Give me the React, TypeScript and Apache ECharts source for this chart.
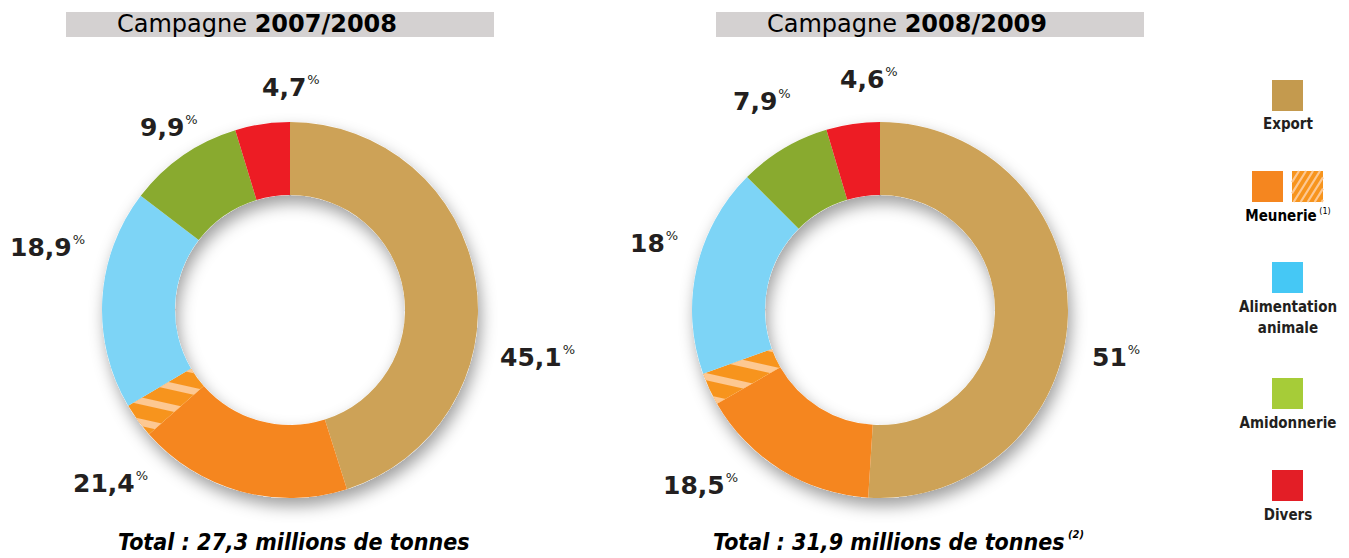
import React, { useEffect, useRef } from "react";
import * as echarts from "echarts";

// ---- Data ----
const categories = ["Export", "Meunerie", "Meunerie (part hachurée)", "Alimentation animale", "Amidonnerie", "Divers"];
const campaigns = ["2007/2008", "2008/2009"];
const exportShare = [45.1, 51];
const meunerieShare = [21.4, 18.5];
const meunerieHatchedShare = [3.0, 2.8];
const alimentationShare = [18.9, 18];
const amidonnerieShare = [9.9, 7.9];
const diversShare = [4.7, 4.6];
const totals = ["27,3", "31,9"];
const totalNotes = ["", "(2)"];

const legendItems = ["Export", "Meunerie", "Alimentation\nanimale", "Amidonnerie", "Divers"];

// ---- Styles ----
const pieColors = ["#CDA257", "#F5861F", "#F7941D", "#7DD4F6", "#89AA2F", "#ED1C24"];
const legendColors = ["#C49A4E", "#F5861F", "#45C8F5", "#A6CC38", "#E31E26"];
const hatchLight = "#FDC892";
const centers = [[290, 310], [880, 310]];
const ringRadius = [115, 188];
const labelPos = [
  [[500, 357], [73, 483], null, [10, 247], [140, 127], [262, 87]],
  [[1092, 357], [663, 485], null, [630, 243], [733, 101], [840, 79]],
];
const dark = "#231F20";
const numFont = "'DejaVu Sans', sans-serif";
const condFont = "'Liberation Sans Narrow', 'DejaVu Sans Condensed', sans-serif";

const fmt = (v: number) => String(v).replace(".", ",");

function hatchLines(x0: number, y0: number, s: number) {
  const m = Math.tan((58 * Math.PI) / 180);
  const step = 7;
  const out: any[] = [];
  for (let t = x0 - s / m; t < x0 + s; t += step) {
    const u0 = Math.max(0, ((x0 - t) * m) / s);
    const u1 = Math.min(1, ((x0 + s - t) * m) / s);
    if (u1 <= u0) continue;
    const p = (u: number) => [t + (u * s) / m, y0 + s - u * s];
    const a = p(u0), b = p(u1);
    out.push({
      type: "line",
      shape: { x1: a[0], y1: a[1], x2: b[0], y2: b[1] },
      style: { stroke: hatchLight, lineWidth: 2.2 },
      z: 12,
    });
  }
  return out;
}

export default function App() {
  const ref = useRef<HTMLDivElement>(null);
  useEffect(() => {
    if (!ref.current) return;
    const chart = echarts.init(ref.current, null, { renderer: "svg" });

    const shadowSeries = campaigns.map((c, i) => ({
      type: "pie",
      name: "shadow" + c,
      center: centers[i],
      radius: ringRadius,
      silent: true,
      z: 1,
      label: { show: false },
      labelLine: { show: false },
      data: [{ value: 1, itemStyle: { color: "#ffffff", shadowBlur: 16, shadowOffsetY: 8, shadowOffsetX: 3, shadowColor: "rgba(0,0,0,0.38)" } }],
    }));

    const dataSeries = campaigns.map((c, i) => {
      const vals = [
        exportShare[i],
        meunerieShare[i] - meunerieHatchedShare[i],
        meunerieHatchedShare[i],
        alimentationShare[i],
        amidonnerieShare[i],
        diversShare[i],
      ];
      const labels = [
        fmt(exportShare[i]),
        fmt(meunerieShare[i]),
        "",
        fmt(alimentationShare[i]),
        fmt(amidonnerieShare[i]),
        fmt(diversShare[i]),
      ];
      return {
        type: "pie",
        name: c,
        center: centers[i],
        radius: ringRadius,
        startAngle: 90,
        clockwise: true,
        z: 3,
        silent: true,
        labelLine: { show: false },
        label: {
          show: true,
          position: "outside",
          overflow: "none",
          formatter: (p: any) => `{v|${p.data.labelText}}{p|%}`,
          rich: {
            v: { fontSize: 25, fontWeight: "bold", fontFamily: numFont, color: dark, lineHeight: 28 },
            p: { fontSize: 13, fontFamily: numFont, color: dark, verticalAlign: "top", lineHeight: 14, padding: [0, 0, 0, 1] },
          },
        },
        labelLayout: (p: any) => {
          const pos = labelPos[i][p.dataIndex];
          if (!pos) return {};
          return { x: pos[0], y: pos[1], align: "left", verticalAlign: "middle" };
        },
        data: categories.map((name, k) => ({
          name,
          value: vals[k],
          labelText: labels[k],
          label: k === 2 ? { show: false } : undefined,
          itemStyle:
            k === 2
              ? {
                  color: pieColors[k],
                  decal: {
                    symbol: "rect",
                    color: hatchLight,
                    dashArrayX: [1, 0],
                    dashArrayY: [7, 14],
                    rotation: 0.22,
                  },
                }
              : { color: pieColors[k] },
        })),
      };
    });

    const graphics: any[] = [];
    campaigns.forEach((c, i) => {
      const bx = i === 0 ? 66 : 716;
      graphics.push({ type: "rect", shape: { x: bx, y: 12, width: 428, height: 25 }, style: { fill: "#D4D1D1" }, z: 5 });
      graphics.push({
        type: "text",
        x: bx + 51,
        y: 24,
        z: 6,
        style: {
          text: `{a|Campagne }{b|${c}}`,
          verticalAlign: "middle",
          rich: {
            a: { fontSize: 24, fontFamily: numFont, color: dark },
            b: { fontSize: 24, fontFamily: numFont, fontWeight: "bold", color: dark },
          },
        },
      });
      graphics.push({
        type: "text",
        x: i === 0 ? 118 : 713,
        y: 542,
        z: 6,
        style: {
          text: `{t|Total : ${totals[i]} millions de tonnes}` + (totalNotes[i] ? `{n| ${totalNotes[i]}}` : ""),
          verticalAlign: "middle",
          rich: {
            t: { fontSize: 23, fontFamily: condFont, fontWeight: "bold", fontStyle: "italic", color: dark, lineHeight: 26 },
            n: { fontSize: 11, fontFamily: condFont, fontWeight: "bold", fontStyle: "italic", color: dark, verticalAlign: "top", lineHeight: 12 },
          },
        },
      });
    });

    // Legend
    const sqY = [80, 171, 262, 378, 470];
    const txtY = [124, 216, 307, 423, 515];
    legendItems.forEach((name, k) => {
      if (k === 1) {
        graphics.push({ type: "rect", shape: { x: 1252, y: sqY[k], width: 31, height: 31 }, style: { fill: legendColors[k] }, z: 10 });
        graphics.push({ type: "rect", shape: { x: 1292, y: sqY[k], width: 31, height: 31 }, style: { fill: "#F7941D" }, z: 10 });
        graphics.push(...hatchLines(1292, sqY[k], 31));
        graphics.push({
          type: "text",
          x: 1288,
          y: txtY[k],
          z: 10,
          style: {
            text: `{m|Meunerie}{s| (1)}`,
            align: "center",
            verticalAlign: "middle",
            rich: {
              m: { fontSize: 15, fontFamily: condFont, fontWeight: "bold", color: dark, lineHeight: 20 },
              s: { fontSize: 9, fontFamily: condFont, color: dark, verticalAlign: "top", lineHeight: 10 },
            },
          },
        });
      } else {
        graphics.push({ type: "rect", shape: { x: 1272, y: sqY[k], width: 31, height: 31 }, style: { fill: legendColors[k] }, z: 10 });
        graphics.push({
          type: "text",
          x: 1288,
          y: k === 2 ? txtY[k] + 10 : txtY[k],
          z: 10,
          style: {
            text: name,
            align: "center",
            verticalAlign: "middle",
            fontSize: 15,
            lineHeight: 21,
            fontFamily: condFont,
            fontWeight: "bold",
            fill: dark,
          },
        });
      }
    });

    chart.setOption({
      animation: false,
      backgroundColor: "#ffffff",
      series: [...shadowSeries, ...dataSeries],
      graphic: graphics,
    });
    return () => chart.dispose();
  }, []);
  return <div ref={ref} style={{ position: "absolute", left: 0, top: 0, width: 1349, height: 558 }} />;
}
